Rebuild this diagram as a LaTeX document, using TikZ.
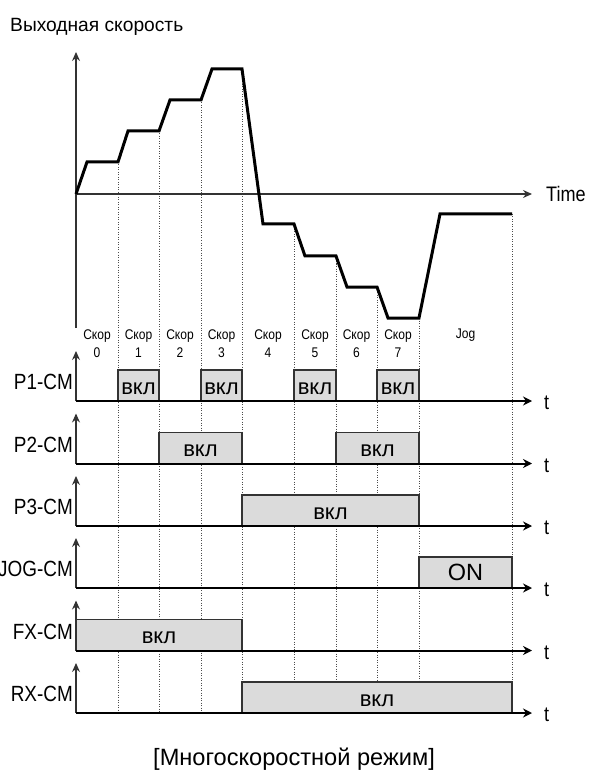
\documentclass[tikz,border=0pt]{standalone}
\usepackage{fontspec}
\setmainfont{Liberation Sans}[FakeStretch=0.86]
\newfontfamily\widefont{Liberation Sans}
\usetikzlibrary{arrows.meta, positioning}

\begin{document}
\begin{tikzpicture}[
    x=1pt, y=-1pt,
    axis/.style={-{Stealth[length=9pt, width=8pt, inset=3pt]}, line width=1.3pt, black!80},
    base/.style={-{Stealth[length=9pt, width=9pt, inset=3pt]}, line width=2pt},
    grid/.style={line width=0.8pt, dash pattern=on 1pt off 1.5pt, black!70},
    speed/.style={line width=3pt, line join=miter},
    onbox/.style={rectangle, draw=black!80, line width=1.2pt, fill=black!14, minimum height=31pt, inner sep=0pt, text height=17pt, text depth=0pt, font=\widefont\fontsize{22}{24}\selectfont},
    sig/.style={anchor=east, inner sep=0pt, font=\fontsize{22}{24}\selectfont},
    tlabel/.style={anchor=west, inner sep=0pt, font=\fontsize{21}{24}\selectfont},
    stage/.style={align=center, inner sep=0pt, font=\fontsize{14}{18}\selectfont},
]
\useasboundingbox (0,0) rectangle (590,775);

% speed axes
\node[anchor=base west, inner sep=0pt, font=\widefont\fontsize{19.2}{22}\selectfont] (title) at (10,31.5) {Выходная скорость};
\coordinate (o) at (76,194);
\coordinate (vtop) at (76,52);
\coordinate (vbot) at (76,328);
\coordinate (tend) at (532,194);
\node[tlabel] (time) at (546,194) {Time};

% dotted guides
\draw[grid] (118,162) -- (118,713);
\draw[grid] (159,131) -- (159,713);
\draw[grid] (201,100) -- (201,713);
\draw[grid] (242,69) -- (242,713);
\draw[grid] (294,224) -- (294,713);
\draw[grid] (336,256) -- (336,713);
\draw[grid] (377,287) -- (377,713);
\draw[grid] (419,318) -- (419,713);
\draw[grid] (512,214) -- (512,713);

\draw[axis] (vbot) -- (vtop);
\draw[axis] (o) -- (tend);

\draw[speed] (o) -- (87,162) -- (118,162) -- (128,131) -- (159,131) -- (170,100) -- (201,100) -- (212,69) -- (242,69)
    -- (263,224) -- (294,224) -- (305,256) -- (336,256) -- (347,287) -- (377,287) -- (388,318) -- (419,318)
    -- (440,214) -- (512,214);

% stage labels
\node[stage] (s0) at (97,344) {Скор\\0};
\node[stage] (s1) at (138.5,344) {Скор\\1};
\node[stage] (s2) at (180,344) {Скор\\2};
\node[stage] (s3) at (221.5,344) {Скор\\3};
\node[stage] (s4) at (268,344) {Скор\\4};
\node[stage] (s5) at (315,344) {Скор\\5};
\node[stage] (s6) at (356.5,344) {Скор\\6};
\node[stage] (s7) at (398,344) {Скор\\7};
\node[stage] (jog) at (465.5,335) {Jog};

% P1-CM
\node[onbox, minimum width=41pt] (p1a) at (138.5,385.5) {вкл};
\node[onbox, minimum width=41pt] (p1b) at (221.5,385.5) {вкл};
\node[onbox, minimum width=42pt] (p1c) at (315,385.5) {вкл};
\node[onbox, minimum width=42pt] (p1d) at (398,385.5) {вкл};
% P2-CM
\node[onbox, minimum width=83pt] (p2a) at (200.5,448) {вкл};
\node[onbox, minimum width=83pt] (p2b) at (377.5,448) {вкл};
% P3-CM
\node[onbox, minimum width=177pt] (p3a) at (330.5,510.5) {вкл};
% JOG-CM
\node[onbox, minimum width=93pt, text height=, text depth=, font=\widefont\fontsize{23.5}{24}\selectfont] (joga) at (465.5,572.5) {ON};
% FX-CM
\node[onbox, minimum width=166pt] (fxa) at (159,635) {вкл};
% RX-CM
\node[onbox, minimum width=270pt] (rxa) at (377,697.5) {вкл};

% signal rows
\coordinate (p1o) at (76,401);   \coordinate (p1y) at (76,351);   \coordinate (p1t) at (532,401);
\coordinate (p2o) at (76,463.5); \coordinate (p2y) at (76,413.5); \coordinate (p2t) at (532,463.5);
\coordinate (p3o) at (76,526);   \coordinate (p3y) at (76,476);   \coordinate (p3t) at (532,526);
\coordinate (jgo) at (76,588);   \coordinate (jgy) at (76,538);   \coordinate (jgt) at (532,588);
\coordinate (fxo) at (76,650.5); \coordinate (fxy) at (76,600.5); \coordinate (fxt) at (532,650.5);
\coordinate (rxo) at (76,713);   \coordinate (rxy) at (76,663);   \coordinate (rxt) at (532,713);

\node[sig] (lp1) at (73,382) {P1-CM};
\node[sig] (lp2) at (73,444.5) {P2-CM};
\node[sig] (lp3) at (73,507) {P3-CM};
\node[sig] (ljog) at (73,569) {JOG-CM};
\node[sig] (lfx) at (73,631.5) {FX-CM};
\node[sig] (lrx) at (73,694) {RX-CM};

\draw[axis] (p1o) -- (p1y);
\draw[axis] (p2o) -- (p2y);
\draw[axis] (p3o) -- (p3y);
\draw[axis] (jgo) -- (jgy);
\draw[axis] (fxo) -- (fxy);
\draw[axis] (rxo) -- (rxy);

\draw[base] (p1o) -- (p1t);
\draw[base] (p2o) -- (p2t);
\draw[base] (p3o) -- (p3t);
\draw[base] (jgo) -- (jgt);
\draw[base] (fxo) -- (fxt);
\draw[base] (rxo) -- (rxt);

\node[tlabel] (t1) at (544,403) {t};
\node[tlabel] (t2) at (544,465.5) {t};
\node[tlabel] (t3) at (544,528) {t};
\node[tlabel] (t4) at (544,590) {t};
\node[tlabel] (t5) at (544,652.5) {t};
\node[tlabel] (t6) at (544,715) {t};

\node[font=\widefont\fontsize{23.6}{24}\selectfont, inner sep=0pt] (caption) at (294,759) {[Многоскоростной режим]};

\end{tikzpicture}
\end{document}
